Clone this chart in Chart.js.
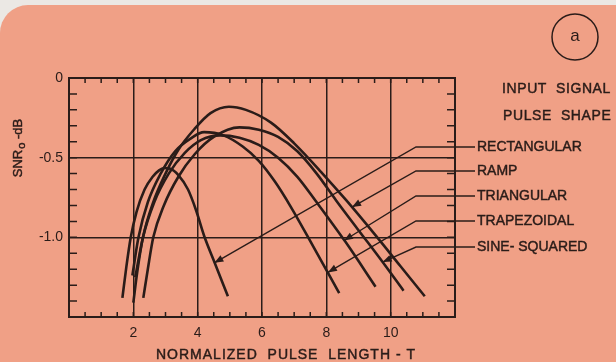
<!DOCTYPE html>
<html>
<head>
<meta charset="utf-8">
<script src="https://cdn.jsdelivr.net/npm/chart.js@4.4.1/dist/chart.umd.min.js"></script>
<style>
  html, body { margin: 0; padding: 0; background: #ebe8e4; }
  #card { position: absolute; left: 0; top: 5px; width: 616px; height: 357px; background: #f0a086; border-top-left-radius: 28px; }
  #wrap { position: absolute; left: 0; top: 0; width: 616px; height: 362px; }
</style>
</head>
<body>
<div id="card"></div>
<div id="wrap"><canvas id="chart" width="616" height="362"></canvas></div>
<script>
// curves (x = normalized pulse length T, y = SNRo in dB)
const rectX = [1.66, 1.78, 1.92, 2.1, 2.35, 2.6, 2.8, 2.95, 3.15, 3.4, 3.7, 3.95, 4.2, 4.55, 4.94];
const rectY = [-1.38, -1.19, -1.0, -0.84, -0.70, -0.62, -0.58, -0.565, -0.57, -0.61, -0.70, -0.83, -0.99, -1.17, -1.37];

const rampX = [2.0, 2.12, 2.3, 2.6, 3.0, 3.4, 3.9, 4.4, 4.97, 5.5, 6.28, 7.0, 7.84, 8.63, 9.5, 10.3, 11.06];
const rampY = [-1.41, -1.22, -1.0, -0.79, -0.6, -0.45, -0.32, -0.22, -0.18, -0.2, -0.28, -0.41, -0.59, -0.77, -0.98, -1.18, -1.37];

const triX = [2.06, 2.3, 2.65, 3.1, 3.6, 4.1, 4.7, 5.3, 5.9, 6.5, 7.1, 7.7, 8.6, 9.53];
const triY = [-1.25, -1.0, -0.78, -0.6, -0.47, -0.39, -0.36, -0.375, -0.42, -0.5, -0.62, -0.78, -1.03, -1.31];

const trapX = [1.97, 2.16, 2.45, 2.85, 3.3, 3.78, 4.2, 4.8, 5.4, 5.9, 6.4, 6.9, 7.6, 8.4];
const trapY = [-1.24, -1.0, -0.78, -0.6, -0.46, -0.38, -0.34, -0.36, -0.43, -0.52, -0.65, -0.81, -1.06, -1.35];

const sineX = [2.31, 2.45, 2.62, 2.95, 3.4, 3.9, 4.5, 5.3, 5.9, 6.5, 7.1, 7.7, 8.31, 9.0, 9.75, 10.4];
const sineY = [-1.38, -1.2, -1.0, -0.8, -0.62, -0.48, -0.37, -0.31, -0.325, -0.37, -0.46, -0.6, -0.77, -0.955, -1.155, -1.335];

// legend labels and where their arrows touch each curve
const shapeNames = ['RECTANGULAR', 'RAMP', 'TRIANGULAR', 'TRAPEZOIDAL', 'SINE- SQUARED'];
const arrowTipX = [4.52, 8.8, 8.55, 8.05, 9.75];
const arrowTipY = [-1.16, -0.81, -1.02, -1.22, -1.155];

const xMajorTicks = [2, 4, 6, 8, 10];
const yMajorTicks = [0, -0.5, -1.0];
const yTickLabels = ['0', '-0.5', '-1.0'];

const ink = '#2a1c19';
const font = '"Liberation Sans", Arial, sans-serif';

function toPoints(xs, ys) {
  return xs.map((v, i) => ({ x: v, y: ys[i] }));
}

function isMajor(list, v) {
  return list.some(m => Math.abs(m - v) < 1e-6);
}

// slightly heavier text, like the printed original
function boldText(ctx, s, x, y) {
  ctx.fillText(s, x, y);
  ctx.strokeText(s, x, y);
}

const decor = {
  id: 'decor',
  afterDraw(chart) {
    const { ctx, chartArea: a, scales: { x, y } } = chart;
    ctx.save();
    ctx.strokeStyle = ink;
    ctx.fillStyle = ink;

    // frame
    ctx.lineWidth = 2;
    ctx.strokeRect(a.left, a.top, a.right - a.left, a.bottom - a.top);

    // inward minor ticks on all four sides
    ctx.lineWidth = 1.5;
    ctx.beginPath();
    x.ticks.forEach(t => {
      if (t.value <= x.min || t.value >= x.max) return;
      const px = x.getPixelForValue(t.value);
      ctx.moveTo(px, a.bottom); ctx.lineTo(px, a.bottom - 5);
      ctx.moveTo(px, a.top); ctx.lineTo(px, a.top + 5);
    });
    y.ticks.forEach(t => {
      if (t.value <= y.min || t.value >= y.max) return;
      const py = y.getPixelForValue(t.value);
      ctx.moveTo(a.left, py); ctx.lineTo(a.left + 8, py);
      ctx.moveTo(a.right, py); ctx.lineTo(a.right - 8, py);
    });
    ctx.stroke();

    ctx.lineWidth = 0.45;

    // x title
    ctx.font = '14px ' + font;
    ctx.letterSpacing = '1px';
    ctx.textAlign = 'center';
    ctx.textBaseline = 'middle';
    boldText(ctx, 'NORMALIZED  PULSE  LENGTH - T', 286, 355);
    ctx.letterSpacing = '0px';

    // y title with subscript o
    ctx.save();
    ctx.translate(18, 148);
    ctx.rotate(-Math.PI / 2);
    ctx.textAlign = 'left';
    ctx.font = '13px ' + font;
    const w1 = ctx.measureText('SNR').width;
    const w3 = ctx.measureText(' -dB').width;
    ctx.font = '11px ' + font;
    const w2 = ctx.measureText('o').width + 1;
    const sx = -(w1 + w2 + w3) / 2;
    ctx.font = '13px ' + font;
    boldText(ctx, 'SNR', sx, 0);
    ctx.font = '11px ' + font;
    boldText(ctx, 'o', sx + w1 + 1, 4);
    ctx.font = '13px ' + font;
    boldText(ctx, ' -dB', sx + w1 + w2, 0);
    ctx.restore();

    // circled "a"
    ctx.lineWidth = 1.5;
    ctx.beginPath();
    ctx.arc(575, 37, 23, 0, Math.PI * 2);
    ctx.stroke();
    ctx.font = '17px ' + font;
    ctx.textAlign = 'center';
    ctx.fillText('a', 575, 36);

    // header
    ctx.lineWidth = 0.45;
    ctx.font = '14px ' + font;
    ctx.textAlign = 'left';
    ctx.letterSpacing = '0.6px';
    boldText(ctx, 'INPUT  SIGNAL', 502, 89);
    boldText(ctx, 'PULSE  SHAPE', 503, 116);
    ctx.letterSpacing = '0px';

    // labels with leader lines and arrows
    const labelRows = [147, 171, 196, 221, 247];
    const bendX = 416;
    shapeNames.forEach((name, i) => {
      const py = labelRows[i];
      ctx.lineWidth = 0.45;
      boldText(ctx, name, 477, py);
      const tx = x.getPixelForValue(arrowTipX[i]);
      const ty = y.getPixelForValue(arrowTipY[i]);
      ctx.lineWidth = 1.4;
      ctx.beginPath();
      ctx.moveTo(475, py);
      ctx.lineTo(bendX, py);
      ctx.lineTo(tx, ty);
      ctx.stroke();
      const dx = tx - bendX, dy = ty - py;
      const len = Math.hypot(dx, dy);
      const ux = dx / len, uy = dy / len;
      ctx.beginPath();
      ctx.moveTo(tx, ty);
      ctx.lineTo(tx - ux * 9 - uy * 3.5, ty - uy * 9 + ux * 3.5);
      ctx.lineTo(tx - ux * 9 + uy * 3.5, ty - uy * 9 - ux * 3.5);
      ctx.closePath();
      ctx.fill();
    });

    ctx.restore();
  }
};

function curve(xs, ys) {
  return {
    data: toPoints(xs, ys),
    showLine: true,
    borderColor: ink,
    borderWidth: 2.6,
    pointRadius: 0,
    cubicInterpolationMode: 'monotone',
    fill: false
  };
}

new Chart(document.getElementById('chart'), {
  type: 'scatter',
  data: {
    datasets: [
      curve(rectX, rectY),
      curve(rampX, rampY),
      curve(triX, triY),
      curve(trapX, trapY),
      curve(sineX, sineY)
    ]
  },
  options: {
    responsive: false,
    animation: false,
    devicePixelRatio: 1,
    layout: { padding: { left: 20, right: 161, top: 78, bottom: 10 } },
    plugins: { legend: { display: false }, tooltip: { enabled: false } },
    scales: {
      x: {
        type: 'linear',
        min: 0,
        max: 12,
        afterFit: s => { s.height = 35; },
        ticks: {
          stepSize: 0.5,
          autoSkip: false,
          maxRotation: 0,
          color: ink,
          padding: 8,
          font: { size: 14, family: font },
          callback: v => isMajor(xMajorTicks, v) ? String(v) : ''
        },
        grid: {
          drawTicks: false,
          lineWidth: 1.5,
          color: c => isMajor(xMajorTicks, c.tick.value) ? ink : 'rgba(0,0,0,0)'
        },
        border: { display: false }
      },
      y: {
        type: 'linear',
        min: -1.5,
        max: 0,
        afterFit: s => { s.width = 49; },
        ticks: {
          stepSize: 0.1,
          autoSkip: false,
          color: ink,
          padding: 6,
          font: { size: 14, family: font },
          callback: v => {
            const k = yMajorTicks.findIndex(m => Math.abs(m - v) < 1e-6);
            return k >= 0 ? yTickLabels[k] : '';
          }
        },
        grid: {
          drawTicks: false,
          lineWidth: 1.5,
          color: c => isMajor(yMajorTicks.slice(1), c.tick.value) ? ink : 'rgba(0,0,0,0)'
        },
        border: { display: false }
      }
    }
  },
  plugins: [decor]
});
</script>
</body>
</html>
